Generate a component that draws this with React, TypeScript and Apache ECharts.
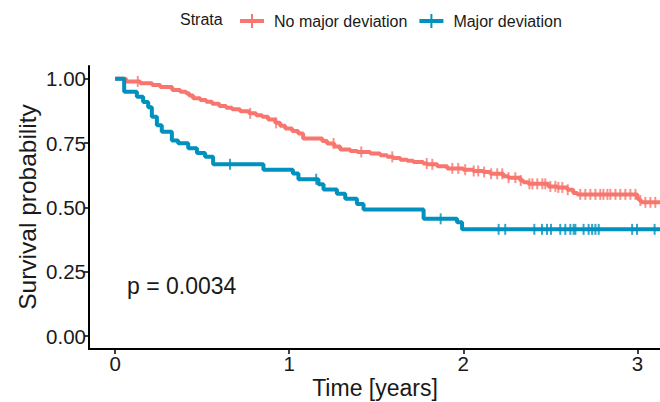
import React, { useEffect, useRef } from "react";
import * as echarts from "echarts";

// ---- Data ----
const strataNames = ["No major deviation", "Major deviation"];
const strataColors = ["#F8766D", "#0091BE"];

// No major deviation: event times (years) and survival after each step
const noMajorTimes = [0, 0.063, 0.144, 0.213, 0.259, 0.328, 0.374, 0.408, 0.425, 0.448, 0.489, 0.523, 0.557, 0.598, 0.638, 0.672, 0.718, 0.77, 0.81, 0.845, 0.879, 0.92, 0.948, 0.977, 1.017, 1.052, 1.08, 1.19, 1.218, 1.259, 1.293, 1.351, 1.391, 1.466, 1.523, 1.563, 1.598, 1.638, 1.678, 1.713, 1.77, 1.793, 1.851, 1.908, 2.0, 2.057, 2.115, 2.155, 2.23, 2.259, 2.328, 2.345, 2.374, 2.489, 2.54, 2.598, 2.632, 2.655, 3.0, 3.011, 3.023];
const noMajorSurv = [1, 0.99, 0.983, 0.976, 0.968, 0.957, 0.95, 0.944, 0.935, 0.925, 0.918, 0.911, 0.903, 0.895, 0.888, 0.882, 0.874, 0.866, 0.859, 0.853, 0.842, 0.829, 0.818, 0.807, 0.797, 0.788, 0.768, 0.758, 0.749, 0.737, 0.725, 0.72, 0.716, 0.71, 0.703, 0.697, 0.692, 0.686, 0.682, 0.677, 0.671, 0.668, 0.66, 0.652, 0.647, 0.642, 0.638, 0.631, 0.621, 0.616, 0.605, 0.598, 0.592, 0.582, 0.578, 0.569, 0.556, 0.551, 0.535, 0.527, 0.52];
const noMajorCensor = [0.13, 0.776, 0.925, 1.255, 1.414, 1.592, 1.79, 1.822, 1.937, 1.971, 2.011, 2.06, 2.086, 2.12, 2.16, 2.195, 2.224, 2.26, 2.299, 2.33, 2.38, 2.397, 2.425, 2.454, 2.471, 2.5, 2.529, 2.546, 2.569, 2.6, 2.672, 2.701, 2.73, 2.759, 2.787, 2.805, 2.828, 2.845, 2.874, 2.902, 2.931, 2.96, 2.989, 3.017, 3.046, 3.075, 3.103];

// Major deviation
const majorTimes = [0, 0.052, 0.125, 0.161, 0.19, 0.211, 0.24, 0.268, 0.326, 0.362, 0.42, 0.47, 0.517, 0.563, 0.852, 1.021, 1.053, 1.168, 1.197, 1.274, 1.322, 1.389, 1.427, 1.772, 1.964, 1.993];
const majorSurv = [1, 0.95, 0.93, 0.91, 0.89, 0.853, 0.82, 0.794, 0.76, 0.75, 0.73, 0.712, 0.697, 0.668, 0.647, 0.632, 0.61, 0.59, 0.57, 0.553, 0.534, 0.514, 0.492, 0.456, 0.443, 0.415];
const majorCensor = [0.66, 1.155, 1.87, 2.203, 2.241, 2.408, 2.452, 2.481, 2.504, 2.557, 2.586, 2.615, 2.634, 2.644, 2.691, 2.72, 2.74, 2.759, 2.778, 2.97, 2.998, 3.099];

const xTicks = [0, 1, 2, 3];
const yTicks = [0, 0.25, 0.5, 0.75, 1];
const pValueText = "p = 0.0034";

const X_MIN = -0.15;
const X_MAX = 3.13;
const Y_MIN = -0.05;
const Y_MAX = 1.05;

const FONT = "'Liberation Sans', Arial, Helvetica, sans-serif";

function survAt(times: number[], surv: number[], t: number): number {
  let s = surv[0];
  for (let i = 0; i < times.length; i++) {
    if (times[i] <= t) s = surv[i];
  }
  return s;
}

function stepData(times: number[], surv: number[]) {
  const d = times.map((t, i) => [t, surv[i]]);
  d.push([X_MAX, surv[surv.length - 1]]);
  return d;
}

const iconPath =
  "path://M0,5 L24,5 L24,9 L0,9 Z M11,0 L13,0 L13,14 L11,14 Z";

export default function App() {
  const ref = useRef<HTMLDivElement>(null);

  useEffect(() => {
    if (!ref.current) return;
    const chart = echarts.init(ref.current, null, { renderer: "svg" });

    const groups = [
      { times: noMajorTimes, surv: noMajorSurv, censor: noMajorCensor },
      { times: majorTimes, surv: majorSurv, censor: majorCensor },
    ];

    const series: any[] = [];
    groups.forEach((g, i) => {
      series.push({
        name: strataNames[i],
        type: "line",
        step: "end",
        data: stepData(g.times, g.surv),
        symbol: "none",
        showSymbol: false,
        lineStyle: { color: strataColors[i], width: 4 },
        itemStyle: { color: strataColors[i] },
        z: 2 + i,
        silent: true,
      });
      series.push({
        name: strataNames[i] + " censored",
        type: "scatter",
        data: g.censor.map((t) => [t, survAt(g.times, g.surv, t)]),
        symbol: "rect",
        symbolSize: [2, 11],
        itemStyle: { color: strataColors[i] },
        z: 2 + i,
        silent: true,
      });
    });

    chart.setOption({
      animation: false,
      backgroundColor: "#ffffff",
      textStyle: { fontFamily: FONT },
      grid: { left: 89, right: 0, top: 66, bottom: 53, containLabel: false },
      legend: {
        data: strataNames.map((n) => ({ name: n, icon: iconPath })),
        left: 235,
        top: 8,
        itemWidth: 24,
        itemHeight: 14,
        itemGap: 12,
        selectedMode: false,
        textStyle: { fontSize: 16, color: "#1a1a1a", fontFamily: FONT, padding: [0, 0, 0, 5] },
      },
      xAxis: {
        type: "value",
        min: X_MIN,
        max: X_MAX,
        axisLine: { show: true, onZero: false, lineStyle: { color: "#000", width: 2 } },
        axisTick: { show: true, length: 5, customValues: xTicks, lineStyle: { color: "#000", width: 1.5 } },
        axisLabel: {
          customValues: xTicks,
          fontSize: 20.5,
          color: "#1a1a1a",
          fontFamily: FONT,
          margin: 4,
          formatter: (v: number) => String(v),
        },
        splitLine: { show: false },
      },
      yAxis: {
        type: "value",
        min: Y_MIN,
        max: Y_MAX,
        axisLine: { show: true, onZero: false, lineStyle: { color: "#000", width: 2 } },
        axisTick: { show: true, length: 5, customValues: yTicks, lineStyle: { color: "#000", width: 1.5 } },
        axisLabel: {
          customValues: yTicks,
          fontSize: 20.5,
          color: "#1a1a1a",
          fontFamily: FONT,
          margin: 3,
          formatter: (v: number) => v.toFixed(2),
        },
        splitLine: { show: false },
      },
      graphic: [
        {
          type: "text",
          left: 180,
          top: 10,
          style: { text: "Strata", fontSize: 16, fill: "#1a1a1a", fontFamily: FONT, lineHeight: 18 },
        },
        {
          type: "text",
          x: 127,
          y: 286,
          style: { text: pValueText, fontSize: 23, fill: "#1a1a1a", fontFamily: FONT, textVerticalAlign: "middle" },
        },
        {
          type: "text",
          x: 375,
          y: 388,
          style: { text: "Time [years]", fontSize: 23, fill: "#1a1a1a", fontFamily: FONT, textAlign: "center", textVerticalAlign: "middle" },
        },
        {
          type: "text",
          x: 27,
          y: 207,
          rotation: Math.PI / 2,
          style: { text: "Survival probability", fontSize: 24.5, fill: "#1a1a1a", fontFamily: FONT, textAlign: "center", textVerticalAlign: "middle" },
        },
      ],
      series,
    });

    return () => chart.dispose();
  }, []);

  return (
    <div
      ref={ref}
      style={{ position: "fixed", left: 0, top: 0, width: 660, height: 402 }}
    />
  );
}
